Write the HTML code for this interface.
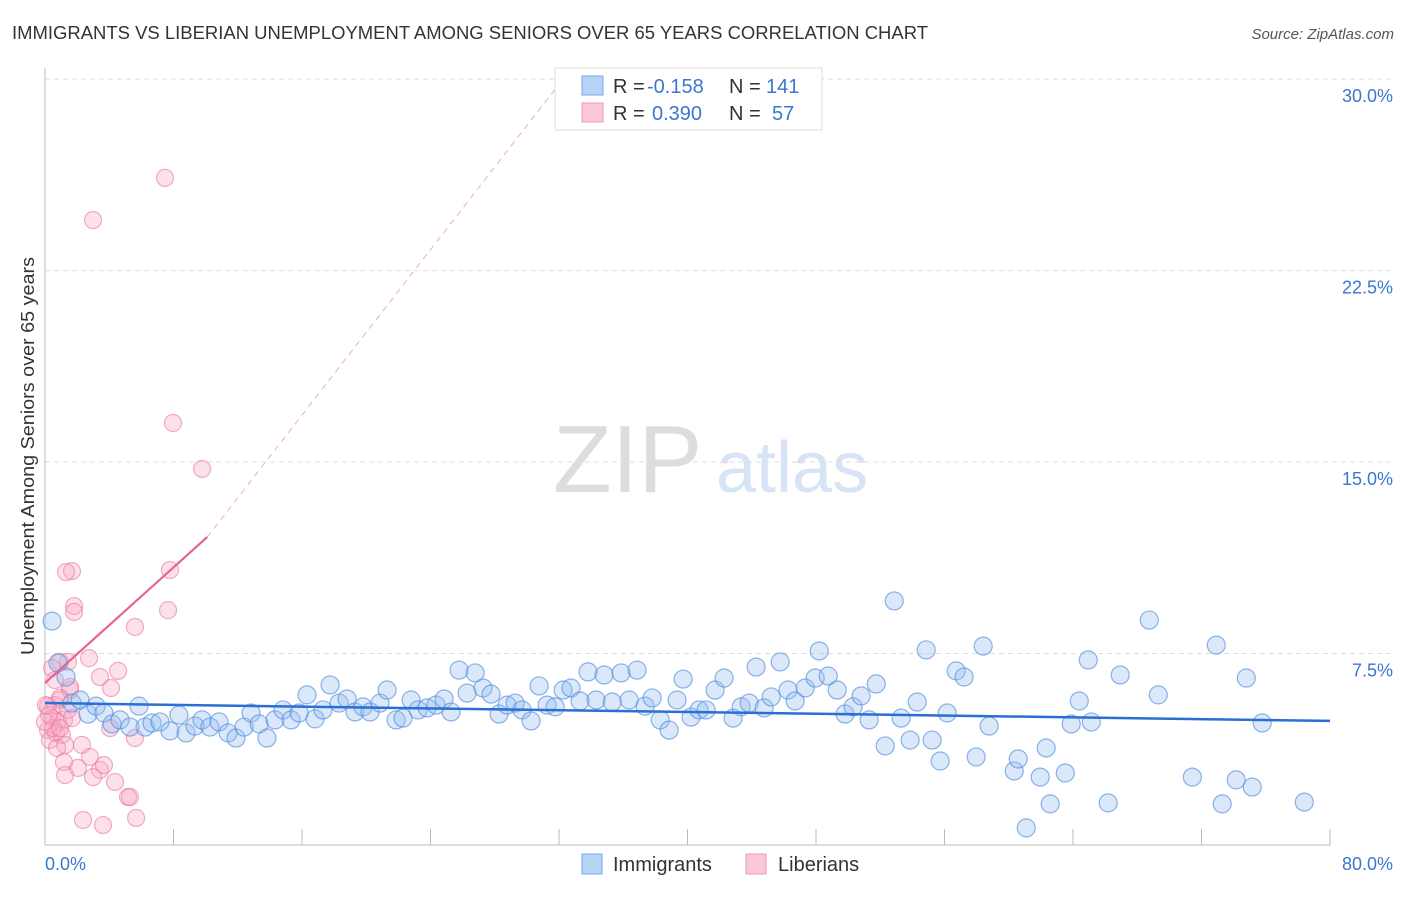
<!DOCTYPE html>
<html><head><meta charset="utf-8"><style>
body{margin:0;background:#fff;font-family:"Liberation Sans",sans-serif}
svg text{font-family:"Liberation Sans",sans-serif}
</style></head><body>
<svg id="c" width="1406" height="892" viewBox="0 0 1406 892">
<text x="12" y="39" font-size="18" textLength="916" lengthAdjust="spacingAndGlyphs" fill="#333">IMMIGRANTS VS LIBERIAN UNEMPLOYMENT AMONG SENIORS OVER 65 YEARS CORRELATION CHART</text>
<text x="1394" y="39" font-size="15" fill="#555" font-style="italic" text-anchor="end">Source: ZipAtlas.com</text>
<g>
<text x="553" y="492" font-size="96" fill="#ddd" font-family="Liberation Serif,serif">ZIP</text>
<text x="716" y="492" font-size="72" fill="#d6e4f5">atlas</text>
</g>
<g id="grid"></g>
<g id="axes"></g>
<g id="pts"></g>
<g id="trend"></g>
<text transform="translate(34,456) rotate(-90)" font-size="18" textLength="398" lengthAdjust="spacingAndGlyphs" fill="#333" text-anchor="middle">Unemployment Among Seniors over 65 years</text>
<g>
<rect x="555" y="68" width="267" height="62" fill="#fff" stroke="#ddd"/>
<rect x="582" y="76" width="21" height="19" fill="#b8d2f5" stroke="#7aaae8"/>
<rect x="582" y="103" width="21" height="19" fill="#fcc8d8" stroke="#f098b5"/>
<text x="613" y="93" font-size="20" fill="#333">R =</text>
<text x="647" y="93" font-size="20" fill="#3a78d0">-0.158</text>
<text x="729" y="93" font-size="20" fill="#333">N =</text>
<text x="766" y="93" font-size="20" fill="#3a78d0">141</text>
<text x="613" y="120" font-size="20" fill="#333">R =</text>
<text x="652" y="120" font-size="20" fill="#3a78d0">0.390</text>
<text x="729" y="120" font-size="20" fill="#333">N =</text>
<text x="772" y="120" font-size="20" fill="#3a78d0">57</text>
</g>
<g>
<rect x="582" y="854" width="20" height="20" fill="#b8d2f5" stroke="#7aaae8"/>
<text x="613" y="871" font-size="20" fill="#333">Immigrants</text>
<rect x="746" y="854" width="20" height="20" fill="#fcc8d8" stroke="#f098b5"/>
<text x="778" y="871" font-size="20" fill="#333">Liberians</text>
</g>
</svg>
<script>
const blueX=[0.44,0.81,1.31,1.68,2.18,2.68,3.18,3.67,4.17,4.67,5.29,5.85,6.23,6.66,7.16,7.78,8.34,8.78,9.34,9.78,10.27,10.84,11.40,11.89,12.39,12.83,13.33,13.82,14.32,14.82,15.32,15.82,16.31,16.81,17.31,17.75,18.31,18.81,19.30,19.80,20.24,20.86,21.30,21.86,22.29,22.79,23.23,23.79,24.35,24.85,25.28,25.78,26.28,26.78,27.27,27.77,28.27,28.77,29.27,29.70,30.26,30.76,31.26,31.76,32.26,32.75,33.31,33.81,34.31,34.81,35.31,35.87,36.37,36.86,37.36,37.80,38.30,38.86,39.35,39.73,40.22,40.72,41.16,41.72,42.28,42.84,43.34,43.84,44.27,44.77,45.21,45.77,46.26,46.70,47.33,47.95,48.20,48.76,49.32,49.81,50.31,50.81,51.31,51.75,52.31,52.87,53.30,53.86,54.30,54.86,55.23,55.73,56.17,56.73,57.22,57.97,58.41,58.78,60.34,60.59,61.09,61.96,62.33,62.58,63.52,63.89,64.39,64.95,65.14,66.19,66.94,68.75,69.31,71.43,72.92,73.29,74.16,74.79,75.16,75.78,78.40];
const blueY=[8.77,7.13,6.58,5.56,5.68,5.13,5.44,5.17,4.74,4.90,4.62,5.44,4.62,4.78,4.82,4.47,5.09,4.39,4.66,4.90,4.62,4.82,4.39,4.19,4.62,5.17,4.74,4.19,4.90,5.29,4.90,5.17,5.88,4.94,5.29,6.27,5.56,5.72,5.21,5.41,5.21,5.56,6.07,4.90,4.97,5.68,5.29,5.37,5.48,5.72,5.21,6.85,5.95,6.74,6.15,5.91,5.13,5.48,5.56,5.29,4.86,6.23,5.48,5.41,6.07,6.15,5.64,6.78,5.68,6.66,5.60,6.74,5.68,6.85,5.44,5.76,4.90,4.50,5.68,6.50,5.01,5.29,5.29,6.07,6.54,4.97,5.41,5.56,6.97,5.37,5.80,7.17,6.07,5.64,6.15,6.54,7.60,6.62,6.07,5.13,5.41,5.84,4.90,6.31,3.88,9.56,4.97,4.11,5.60,7.64,4.11,3.29,5.17,6.82,6.58,3.45,7.79,4.66,2.90,3.37,0.67,2.66,3.80,1.61,2.82,4.74,5.64,7.25,4.82,1.65,6.66,8.81,5.88,2.66,7.83,1.61,2.55,6.54,2.27,4.78,1.68];
const pinkX=[7.47,2.99,7.97,9.78,1.68,1.31,1.81,1.81,7.78,7.66,5.60,2.74,4.55,3.42,4.11,0.93,1.43,0.44,0.62,1.56,0.93,0.19,0.62,0.44,0.81,1.18,0.19,0.68,0.31,1.06,1.25,0.75,2.30,4.05,5.60,2.80,2.05,3.42,1.18,3.67,1.25,2.99,4.36,5.17,5.29,2.37,3.61,5.67,0.06,1.56,0.50,1.43,0.93,1.68,0.25,0.93,0.0];
const pinkY=[26.13,24.48,16.53,14.73,10.73,10.69,9.36,9.13,10.77,9.20,8.54,7.32,6.82,6.58,6.15,7.17,7.17,6.93,6.46,6.07,5.68,5.44,5.48,4.97,4.82,4.90,4.50,4.39,4.11,4.31,3.92,3.80,3.92,4.58,4.19,3.45,3.02,2.94,3.25,3.13,2.74,2.66,2.47,1.88,1.88,0.98,0.78,1.06,5.48,6.19,4.58,5.29,5.76,4.97,5.09,4.58,4.82];
const blueTrend=[[0,5.56],[80,4.86]];
const pinkTrend=[[0,6.35],[10.1,12.06]];
const pinkTrendExt=[[10.1,12.06],[32,29.8]];
const yTicks=[7.5,15,22.5,30];
const yTickLabels=["7.5%","15.0%","22.5%","30.0%"];
const xTicks=[0,8,16,24,32,40,48,56,64,72,80];
const xTickLabels=["0.0%","80.0%"];

const X=v=>45+v*16.0625, Y=v=>845-v*25.53;
const NS="http://www.w3.org/2000/svg";
function mk(p,t,a){const e=document.createElementNS(NS,t);for(const k in a)e.setAttribute(k,a[k]);p.appendChild(e);return e;}
const grid=document.getElementById('grid'),axes=document.getElementById('axes'),pts=document.getElementById('pts'),tr=document.getElementById('trend');
yTicks.forEach((v,i)=>{
 const l=mk(grid,'line',{x1:45,x2:1392,y1:Y(v),y2:Y(v),stroke:'#ddd','stroke-dasharray':'5,4'});
 
 
 const t=mk(grid,'text',{x:1393,y:Y(v)+23,'font-size':18,fill:'#3a78d0','text-anchor':'end'});
 t.textContent=yTickLabels[i];
 
 
});
const ax=mk(axes,'line',{x1:45,x2:1330,y1:845,y2:845,stroke:'#bbb'});


const ay=mk(axes,'line',{x1:45,x2:45,y1:68,y2:845,stroke:'#bbb'});


xTicks.forEach(v=>{
 const t=mk(axes,'line',{x1:X(v),x2:X(v),y1:829,y2:845,stroke:'#bbb'});
 
 
});
const xl0=mk(axes,'text',{x:45,y:870,'font-size':18,fill:'#3a78d0'});xl0.textContent=xTickLabels[0];


const xl1=mk(axes,'text',{x:1393,y:870,'font-size':18,fill:'#3a78d0','text-anchor':'end'});xl1.textContent=xTickLabels[1];


pinkX.forEach((v,i)=>{
 const c=mk(pts,'circle',{cx:X(v),cy:Y(pinkY[i]),r:8.5,fill:'rgba(248,170,195,0.35)',stroke:'rgba(232,120,160,0.6)','stroke-width':1.2});
 
 
});
blueX.forEach((v,i)=>{
 const c=mk(pts,'circle',{cx:X(v),cy:Y(blueY[i]),r:9,fill:'rgba(150,190,240,0.35)',stroke:'rgba(80,140,220,0.65)','stroke-width':1.2});
 
 
});
const bl=mk(tr,'line',{x1:X(blueTrend[0][0]),y1:Y(blueTrend[0][1]),x2:X(blueTrend[1][0]),y2:Y(blueTrend[1][1]),stroke:'#2a6fd6','stroke-width':2.5});


const pl=mk(tr,'line',{x1:X(pinkTrend[0][0]),y1:Y(pinkTrend[0][1]),x2:X(pinkTrend[1][0]),y2:Y(pinkTrend[1][1]),stroke:'#e8638f','stroke-width':2.2});


const pe=mk(tr,'line',{x1:X(pinkTrendExt[0][0]),y1:Y(pinkTrendExt[0][1]),x2:X(pinkTrendExt[1][0]),y2:Y(pinkTrendExt[1][1]),stroke:'#eeaac0','stroke-width':1,'stroke-dasharray':'6,5'});


</script>
</body></html>
